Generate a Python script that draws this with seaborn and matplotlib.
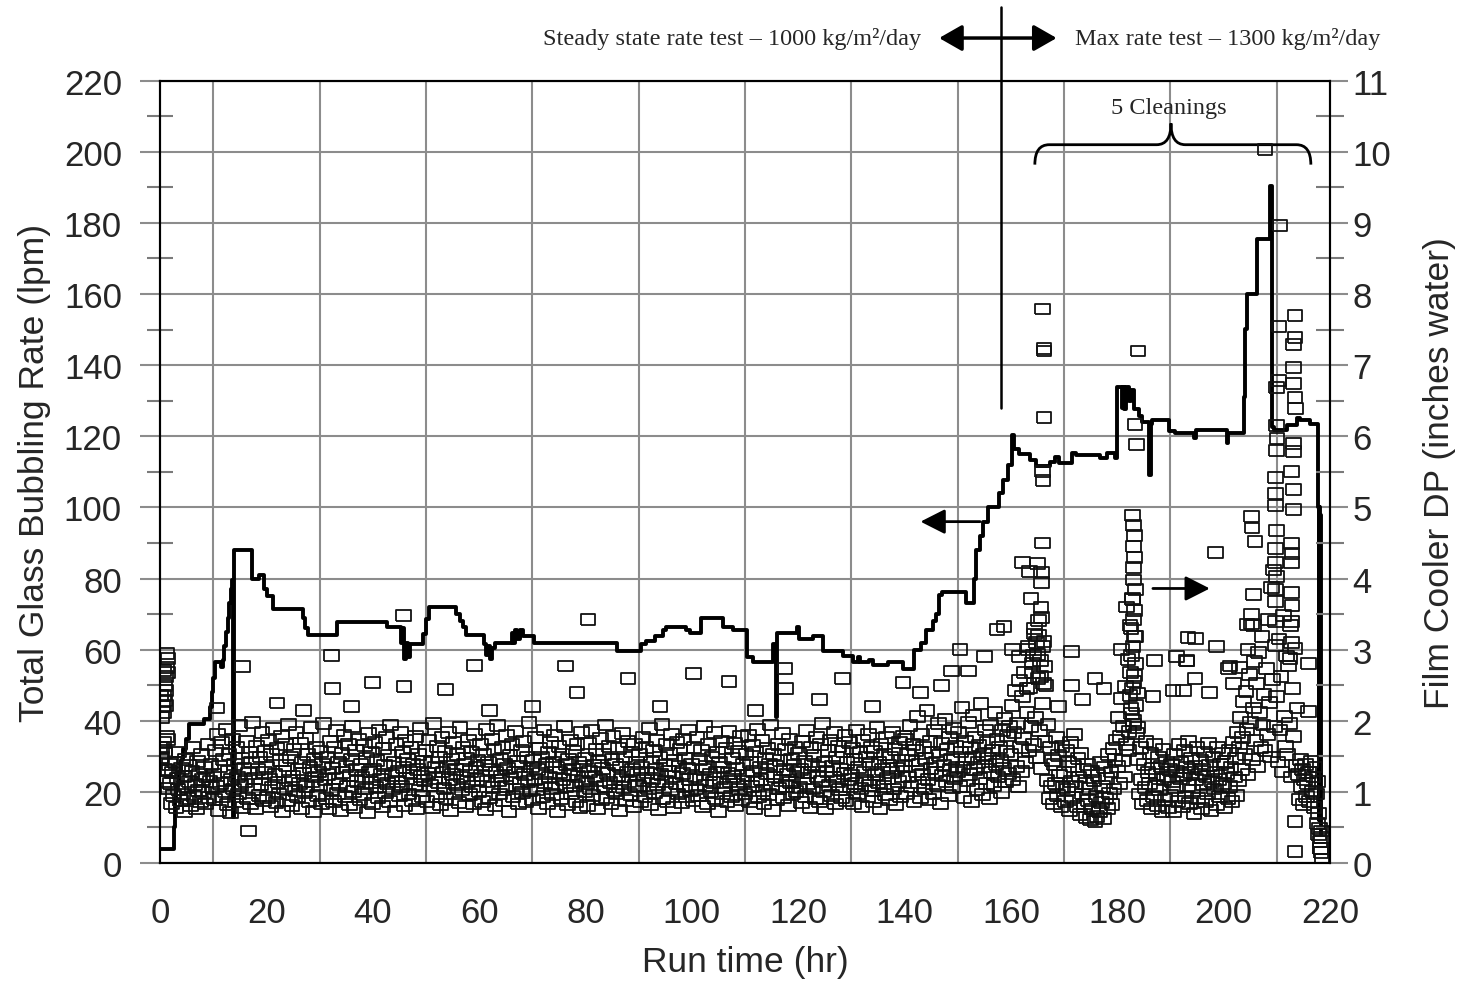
import numpy as np
import pandas as pd
import matplotlib
matplotlib.use("Agg")
import matplotlib.pyplot as plt
from matplotlib.path import Path
from matplotlib.patches import PathPatch
from matplotlib.ticker import MultipleLocator
import seaborn as sns

# Total glass bubbling rate (lpm), step trace: (run hr, lpm)
bubbling_steps = [
    (0.0, 4), (2.6, 10), (2.8, 18), (3.1, 22), (3.5, 26), (3.9, 29), (4.4, 32),
    (4.9, 35), (5.4, 39), (8.2, 40.5), (9.4, 44), (9.7, 48), (10.0, 52),
    (10.3, 56.5), (11.4, 55), (11.8, 57), (12.1, 61), (12.4, 65), (12.7, 69),
    (13.0, 73), (13.3, 77), (13.5, 79.5), (13.75, 13), (13.85, 88), (17.3, 80),
    (18.6, 81), (19.6, 77), (20.2, 75), (21.3, 71.5), (26.8, 69), (27.3, 66),
    (27.8, 64), (33.2, 67.8), (42.6, 66.5), (45.4, 62), (45.7, 66), (45.9, 57.5),
    (46.3, 62), (46.6, 58), (47.0, 61.5), (49.5, 64.5), (50.0, 68.5), (50.5, 72),
    (55.6, 70), (56.4, 68), (57.0, 66.5), (57.6, 64), (60.9, 61.5), (61.3, 58.5),
    (61.7, 61), (62.1, 57.5), (62.5, 60.5), (63.0, 62), (66.1, 64.6), (66.4, 62),
    (66.8, 65.5), (67.2, 63), (67.7, 65.5), (68.2, 63.7), (70.3, 62), (85.9, 59.6),
    (90.4, 61.5), (91.3, 62.5), (93.0, 63.7), (94.6, 65.5), (95.2, 66.5),
    (98.9, 65.5), (99.6, 64.7), (101.8, 68.8), (105.8, 66.5), (107.8, 65.6),
    (110.3, 57.8), (111.5, 56.6), (115.2, 61.5), (115.8, 41), (116.1, 64.6),
    (119.7, 66.5), (120.2, 62.9), (122.8, 63.7), (124.7, 59.6), (128.5, 58.3),
    (130.4, 56.4), (131.2, 58), (131.6, 56.5), (133.4, 57), (134.0, 55.8),
    (136.8, 56.6), (139.8, 54.5), (141.8, 60), (143.1, 62), (144.0, 65.5),
    (145.3, 68), (145.9, 70), (146.5, 75.5), (147.0, 76.3), (151.6, 73),
    (153.1, 80), (153.5, 88), (154.1, 92), (154.8, 96), (155.6, 100.2),
    (157.8, 104), (158.5, 107.6), (159.5, 112), (160.2, 120.5), (160.6, 116.4),
    (161.5, 115), (163.5, 113.3), (164.7, 111.7), (167.3, 112.7), (168.2, 114.3),
    (169.1, 112.4), (171.4, 115.3), (172.3, 114.8), (176.7, 114), (178.0, 115.3),
    (179.5, 114), (180.0, 134), (180.8, 128), (181.0, 134), (181.3, 127.7),
    (181.6, 134), (182.2, 130), (182.6, 133), (183.1, 127.7), (184.1, 125.8),
    (184.7, 123.9), (186.0, 109), (186.3, 123.5), (186.6, 124.5), (189.7, 121.6),
    (190.9, 120.9), (194.4, 119.5), (194.8, 121.9), (200.6, 118), (200.9, 121),
    (203.75, 131), (204.1, 150.3), (204.4, 160), (206.25, 175.5), (208.75, 190.3),
    (209.1, 122.6), (209.5, 121.9), (211.9, 123.2), (213.75, 125.2), (214.4, 124.5),
    (216.25, 123.5), (217.8, 100), (217.9, 12), (218.0, 100), (218.1, 15),
    (218.2, 98), (218.3, 8), (218.4, 8),
]

# Film cooler DP (inches water), logged every 0.2 hr, one list per 10 hr block
dp_interval_hr = 0.2
dp_000 = [1.62, 2.35, 1.48, 2.71, 1.31, 2.22, 1.15, 1.74, 1.05, 1.38,
          1.12, 0.84, 1.27, 0.95, 1.41, 0.78, 1.19, 1.03, 1.56, 0.88,
          1.33, 0.97, 1.22, 0.72, 1.46, 1.08, 0.91, 1.37, 1.15, 0.81,
          1.29, 1.62, 0.94, 1.11, 0.76, 1.43, 1.02, 1.25, 0.87, 1.52,
          1.18, 0.99, 1.34, 0.83, 1.21, 1.67, 0.92, 1.14, 1.39, 1.06]
dp_010 = [1.24, 0.89, 1.58, 1.07, 1.81, 0.74, 1.36, 1.12, 1.69, 0.93,
          1.45, 1.01, 1.88, 0.82, 1.29, 1.53, 0.71, 1.17, 1.74, 1.04,
          1.38, 0.86, 1.62, 1.21, 0.97, 1.93, 1.09, 1.47, 0.78, 1.33,
          1.15, 1.71, 0.91, 1.26, 1.55, 0.84, 1.42, 1.98, 1.03, 1.19,
          0.76, 1.64, 1.31, 0.95, 1.49, 1.11, 1.83, 0.88, 1.27, 1.57]
dp_020 = [1.35, 0.92, 1.73, 1.18, 0.79, 1.52, 1.06, 1.89, 1.24, 0.85,
          1.61, 1.13, 0.97, 1.44, 1.78, 0.73, 1.29, 1.05, 1.66, 1.37,
          0.88, 1.95, 1.16, 1.48, 0.81, 1.22, 1.59, 1.02, 1.84, 0.94,
          1.31, 1.12, 1.68, 0.77, 1.41, 1.26, 0.99, 1.75, 1.08, 1.53,
          0.86, 1.34, 1.91, 1.14, 0.72, 1.46, 1.21, 1.63, 0.95, 1.28]
dp_030 = [1.09, 1.57, 0.83, 1.38, 1.96, 1.17, 0.91, 1.49, 1.25, 0.76,
          1.71, 1.03, 1.33, 0.87, 1.62, 1.19, 1.86, 0.98, 1.42, 1.11,
          0.74, 1.54, 1.27, 1.79, 0.93, 1.36, 1.07, 1.67, 0.82, 1.23,
          1.45, 1.92, 1.01, 0.78, 1.58, 1.31, 1.14, 1.74, 0.89, 1.39,
          1.21, 0.96, 1.65, 1.04, 1.47, 0.71, 1.82, 1.28, 1.13, 1.56]
dp_040 = [0.84, 1.32, 1.69, 1.06, 1.44, 0.92, 1.87, 1.18, 1.25, 0.79,
          1.61, 1.37, 0.99, 1.76, 1.12, 1.51, 0.86, 1.94, 1.23, 1.04,
          1.41, 0.73, 1.66, 1.15, 1.29, 0.95, 1.83, 1.08, 1.55, 1.34,
          0.81, 1.72, 1.19, 1.46, 0.97, 1.27, 1.63, 0.88, 1.39, 1.11,
          1.78, 0.76, 1.31, 1.52, 1.02, 1.89, 1.22, 0.93, 1.43, 1.16]
dp_050 = [1.58, 0.87, 1.26, 1.73, 1.09, 1.41, 0.78, 1.96, 1.19, 1.35,
          0.94, 1.64, 1.13, 1.48, 0.82, 1.77, 1.28, 1.05, 1.57, 0.91,
          1.36, 1.84, 1.17, 0.74, 1.45, 1.24, 1.69, 0.98, 1.32, 1.11,
          1.53, 0.85, 1.91, 1.21, 1.03, 1.62, 1.38, 0.79, 1.47, 1.14,
          1.72, 0.96, 1.29, 1.56, 1.07, 0.83, 1.81, 1.34, 1.18, 1.44]
dp_060 = [1.01, 1.67, 1.23, 0.86, 1.52, 1.37, 0.75, 1.88, 1.14, 1.42,
          0.92, 1.31, 1.74, 1.06, 1.59, 0.81, 1.27, 1.93, 1.16, 0.97,
          1.46, 1.22, 1.63, 0.88, 1.39, 1.08, 1.79, 1.33, 0.72, 1.51,
          1.19, 1.66, 0.94, 1.28, 1.85, 1.04, 1.43, 0.83, 1.36, 1.12,
          1.58, 0.99, 1.71, 1.25, 0.87, 1.48, 1.15, 1.97, 1.02, 1.35]
dp_070 = [0.89, 1.44, 1.18, 1.76, 1.03, 1.32, 0.77, 1.61, 1.26, 1.49,
          0.93, 1.87, 1.13, 1.38, 0.84, 1.55, 1.21, 1.69, 1.05, 0.96,
          1.42, 1.79, 1.11, 1.34, 0.73, 1.64, 1.27, 0.91, 1.53, 1.17,
          1.92, 1.07, 1.39, 0.82, 1.46, 1.24, 1.73, 0.98, 1.31, 1.57,
          1.09, 0.86, 1.67, 1.22, 1.41, 0.78, 1.83, 1.14, 1.36, 1.01]
dp_080 = [1.47, 1.12, 0.81, 1.68, 1.29, 1.04, 1.86, 0.95, 1.37, 1.21,
          1.59, 0.76, 1.43, 1.16, 1.75, 0.89, 1.33, 1.52, 1.07, 1.94,
          0.92, 1.26, 1.64, 1.13, 0.84, 1.45, 1.78, 1.02, 1.38, 0.97,
          1.23, 1.61, 0.74, 1.35, 1.18, 1.82, 1.06, 1.49, 0.88, 1.28,
          1.71, 1.15, 0.96, 1.56, 1.31, 0.79, 1.66, 1.09, 1.42, 1.24]
dp_090 = [1.08, 1.53, 0.87, 1.34, 1.77, 1.16, 0.94, 1.62, 1.27, 1.05,
          1.89, 0.82, 1.41, 1.19, 1.58, 0.99, 1.32, 1.72, 1.11, 0.75,
          1.48, 1.25, 1.95, 0.91, 1.37, 1.14, 1.66, 0.86, 1.29, 1.54,
          1.03, 1.81, 1.22, 0.78, 1.44, 1.12, 1.69, 0.97, 1.36, 1.59,
          0.85, 1.26, 1.74, 1.07, 1.47, 0.93, 1.33, 1.87, 1.18, 1.02]
dp_100 = [1.39, 0.88, 1.63, 1.21, 1.04, 1.76, 0.95, 1.45, 1.17, 1.58,
          0.79, 1.31, 1.92, 1.09, 1.36, 0.84, 1.67, 1.24, 1.01, 1.49,
          1.13, 1.83, 0.91, 1.28, 1.55, 0.73, 1.42, 1.19, 1.71, 0.98,
          1.35, 1.06, 1.61, 0.87, 1.26, 1.85, 1.14, 0.94, 1.47, 1.22,
          1.68, 0.81, 1.33, 1.11, 1.57, 1.03, 1.78, 0.89, 1.38, 1.15]
dp_110 = [0.97, 1.52, 1.23, 1.79, 0.86, 1.41, 1.08, 1.65, 1.29, 0.77,
          1.56, 1.14, 1.88, 0.93, 1.34, 1.18, 1.72, 1.02, 0.83, 1.47,
          1.26, 1.61, 0.96, 1.39, 1.94, 1.11, 0.74, 1.53, 1.21, 1.36,
          0.89, 1.67, 1.05, 1.44, 1.16, 1.82, 0.92, 1.31, 1.59, 1.07,
          1.25, 0.81, 1.74, 1.13, 1.46, 0.98, 1.37, 1.63, 1.01, 1.28]
dp_120 = [1.54, 1.06, 1.32, 0.85, 1.71, 1.19, 1.43, 0.94, 1.86, 1.12,
          1.27, 0.78, 1.62, 1.38, 1.04, 1.51, 0.91, 1.77, 1.22, 1.35,
          0.87, 1.66, 1.15, 1.96, 1.01, 1.42, 0.76, 1.29, 1.58, 1.09,
          1.73, 0.95, 1.36, 1.21, 1.84, 0.83, 1.48, 1.14, 1.64, 1.03,
          1.31, 0.92, 1.57, 1.26, 1.79, 0.88, 1.41, 1.17, 1.69, 1.07]
dp_130 = [1.23, 1.61, 0.84, 1.45, 1.12, 1.87, 0.97, 1.34, 1.55, 1.05,
          0.79, 1.72, 1.28, 1.16, 1.49, 0.93, 1.81, 1.09, 1.38, 1.63,
          1.02, 0.86, 1.57, 1.24, 1.91, 1.13, 1.42, 0.77, 1.66, 1.31,
          1.08, 1.53, 0.96, 1.76, 1.19, 1.37, 0.89, 1.48, 1.27, 1.84,
          1.04, 1.59, 0.82, 1.33, 1.15, 1.69, 0.94, 1.44, 1.22, 1.78]
dp_140 = [1.36, 1.74, 0.98, 1.52, 1.21, 1.93, 1.07, 1.44, 1.67, 0.86,
          1.58, 1.29, 2.06, 1.13, 1.39, 0.92, 1.81, 1.25, 1.62, 1.04,
          1.47, 2.14, 1.18, 0.89, 1.71, 1.33, 1.55, 0.97, 1.86, 1.27,
          1.42, 1.09, 1.96, 1.51, 0.84, 1.68, 1.23, 1.37, 2.02, 1.14,
          1.59, 0.95, 1.77, 1.31, 1.46, 1.06, 1.89, 1.19, 1.64, 1.35]
dp_150 = [1.28, 1.83, 1.07, 1.56, 2.19, 1.34, 0.92, 1.71, 1.45, 1.16,
          1.98, 1.24, 1.62, 0.87, 1.49, 2.08, 1.31, 1.77, 1.03, 1.41,
          1.65, 1.19, 2.24, 0.96, 1.53, 1.36, 1.87, 1.12, 1.69, 1.47,
          0.91, 1.94, 1.27, 1.58, 1.09, 2.11, 1.38, 1.74, 1.21, 1.63,
          1.44, 0.99, 1.86, 1.33, 2.03, 1.15, 1.57, 1.79, 1.26, 1.92]
dp_160 = [1.52, 2.21, 1.17, 1.84, 2.43, 1.36, 1.96, 1.08, 2.57, 1.63,
          1.29, 2.34, 1.75, 2.68, 1.41, 2.12, 3.05, 1.58, 2.46, 1.92,
          2.81, 1.67, 3.22, 2.05, 1.48, 2.93, 3.41, 1.86, 2.62, 1.33,
          2.24, 3.12, 1.71, 2.49, 1.16, 1.95, 0.91, 1.62, 1.08, 1.44,
          0.83, 1.38, 1.12, 1.76, 0.95, 1.51, 1.23, 0.79, 1.64, 1.06]
dp_170 = [1.27, 0.86, 1.58, 1.03, 1.42, 0.74, 1.69, 1.15, 0.92, 1.36,
          1.81, 1.08, 0.79, 1.47, 1.21, 0.68, 1.54, 0.97, 1.32, 0.83,
          1.12, 0.64, 1.38, 0.88, 1.05, 0.61, 1.29, 0.76, 1.16, 0.58,
          0.94, 0.66, 1.23, 0.72, 1.41, 0.85, 1.07, 0.63, 1.34, 0.91,
          1.19, 0.77, 1.52, 0.98, 1.28, 0.82, 1.61, 1.04, 1.45, 1.73]
dp_180 = [1.36, 2.05, 1.12, 1.78, 2.31, 1.44, 1.92, 1.21, 2.48, 1.67,
          2.86, 1.58, 3.34, 2.17, 3.72, 1.95, 2.64, 3.18, 1.82, 2.39,
          1.46, 0.97, 1.63, 1.18, 0.83, 1.39, 1.06, 1.71, 0.88, 1.27,
          1.12, 1.54, 0.76, 1.33, 0.94, 1.67, 1.08, 1.25, 0.81, 1.48,
          1.03, 1.36, 0.72, 1.59, 1.17, 0.89, 1.42, 1.21, 0.78, 1.31]
dp_190 = [0.95, 1.38, 1.14, 0.73, 1.52, 1.06, 1.29, 0.87, 1.66, 1.19,
          1.41, 0.79, 1.23, 1.58, 0.92, 1.34, 1.09, 1.71, 0.84, 1.27,
          1.47, 1.02, 0.69, 1.36, 1.18, 1.62, 0.91, 1.25, 1.44, 0.77,
          1.31, 1.11, 1.56, 0.86, 1.22, 0.97, 1.68, 1.37, 0.74, 1.15,
          1.49, 1.04, 1.28, 0.82, 1.63, 1.17, 0.93, 1.39, 1.08, 1.54]
dp_200 = [1.12, 0.78, 1.43, 1.26, 0.91, 1.58, 1.07, 1.34, 0.86, 1.69,
          1.21, 1.47, 0.95, 1.83, 1.16, 1.62, 2.04, 1.31, 1.76, 2.27,
          1.53, 2.41, 1.88, 1.24, 2.65, 1.97, 3.36, 1.45, 2.18, 2.83,
          1.72, 2.52, 1.36, 2.96, 2.11, 1.63, 3.18, 1.94, 2.37, 1.58,
          2.73, 1.81, 3.42, 2.26, 1.49, 3.87, 2.58, 4.12, 1.92, 3.06]
dp_210 = [2.34, 1.42, 3.15, 1.87, 2.62, 1.28, 3.48, 2.06, 1.64, 2.91,
          1.53, 2.77, 1.96, 3.34, 1.21, 2.45, 1.78, 3.02, 1.37, 2.18,
          1.24, 0.89, 1.46, 1.07, 1.31, 0.82, 1.18, 1.39, 0.94, 1.12,
          1.27, 0.86, 1.43, 1.01, 1.21, 0.78, 1.35, 0.97, 1.14, 0.69,
          0.48, 0.21, 0.36]
dp_blocks = {0: dp_000, 10: dp_010, 20: dp_020, 30: dp_030, 40: dp_040,
             50: dp_050, 60: dp_060, 70: dp_070, 80: dp_080, 90: dp_090,
             100: dp_100, 110: dp_110, 120: dp_120, 130: dp_130, 140: dp_140,
             150: dp_150, 160: dp_160, 170: dp_170, 180: dp_180, 190: dp_190,
             200: dp_200, 210: dp_210}

# extra DP readings (hr, inches water): start-up column, outliers and cleaning spikes
early_pts = [(0.3, 2.05), (0.5, 2.2), (0.7, 2.35), (0.9, 2.5), (1.1, 2.62),
             (1.3, 2.75), (1.5, 2.88), (1.2, 2.95), (0.8, 2.28), (0.6, 2.12),
             (1.0, 2.42), (1.4, 2.68), (0.4, 1.62), (0.7, 1.7), (0.9, 1.55),
             (0.2, 1.45), (1.2, 1.78), (1.6, 1.3)]
outlier_pts = [(10.7, 2.18), (15.5, 2.76), (16.6, 0.45), (22.0, 2.25), (27.0, 2.15),
               (32.3, 2.92), (32.5, 2.45), (36.0, 2.2), (39.9, 2.54), (45.8, 3.48),
               (45.9, 2.48), (53.7, 2.44), (59.2, 2.78), (62.0, 2.15), (70.0, 2.2),
               (76.2, 2.77), (78.4, 2.4), (80.5, 3.43), (88.0, 2.6), (94.0, 2.2),
               (100.3, 2.67), (107.0, 2.55), (112.0, 2.15), (117.5, 2.74),
               (117.6, 2.45), (124.0, 2.3), (128.3, 2.6), (134.0, 2.2), (139.7, 2.54),
               (143.0, 2.4), (147.0, 2.5), (148.8, 2.7), (150.4, 3.0), (152.0, 2.7),
               (155.0, 2.9), (157.4, 3.28), (158.7, 3.33)]
spike1_pts = [(160.3, 3.0), (161.5, 2.9), (162.2, 4.22), (163.0, 2.45), (163.2, 3.0),
              (163.5, 4.1), (163.8, 3.72), (164.0, 2.68), (164.2, 2.92), (164.5, 3.3),
              (164.8, 3.1), (165.0, 4.21), (165.1, 2.6), (165.2, 3.2), (165.5, 2.85),
              (165.7, 4.08), (165.75, 3.95), (165.65, 3.59), (165.7, 3.45), (165.9, 3.05),
              (166.0, 7.79), (166.2, 7.23), (166.25, 7.2), (166.2, 6.26), (166.0, 5.5),
              (166.05, 5.38), (166.0, 4.5), (166.1, 2.52), (166.3, 2.76), (169.0, 2.2),
              (171.4, 2.97), (171.45, 2.5), (173.5, 2.3), (175.8, 2.6), (177.5, 2.45)]
spike2_pts = [(180.8, 3.0), (181.8, 3.6), (182.2, 1.85), (182.4, 2.35), (182.5, 2.68),
              (182.6, 3.3), (182.65, 2.1), (182.7, 2.92), (182.8, 3.7), (182.85, 2.45),
              (182.9, 4.88), (182.95, 3.05), (183.0, 4.45), (183.05, 3.98), (183.0, 3.42),
              (183.0, 2.0), (183.1, 4.75), (183.1, 4.15), (183.15, 2.55), (183.2, 4.6),
              (183.2, 3.55), (183.3, 4.3), (183.3, 3.18), (183.35, 6.17), (183.4, 3.85),
              (183.45, 2.8), (183.5, 2.22), (183.6, 5.88), (183.8, 1.9), (183.9, 7.2)]
between_pts = [(186.7, 2.34), (187.0, 2.85), (190.5, 2.42), (191.1, 2.9), (192.4, 2.42),
               (193.1, 2.84), (193.3, 3.17), (193.0, 2.85), (194.6, 2.6), (194.7, 3.16),
               (197.4, 2.4), (198.5, 4.37), (198.7, 3.05), (200.9, 2.74), (201.2, 2.77),
               (201.8, 2.53), (203.0, 2.75)]
spike3_pts = [(204.4, 3.35), (204.6, 3.0), (205.2, 3.5), (205.3, 4.87), (205.35, 4.71),
              (205.6, 3.78), (205.65, 3.34), (205.9, 4.52), (207.8, 10.03), (209.7, 5.42),
              (209.7, 5.2), (209.75, 5.03), (209.7, 4.42), (209.7, 4.23), (209.75, 3.84),
              (209.7, 3.68), (209.7, 3.39), (210.0, 6.68), (210.0, 6.15), (210.05, 5.97),
              (210.0, 5.8), (210.0, 4.68), (210.0, 4.03), (210.3, 6.78), (210.4, 7.55),
              (210.6, 8.97), (212.5, 2.87), (212.8, 5.5), (212.8, 4.49), (212.85, 4.35),
              (212.8, 4.23), (212.8, 3.8), (212.85, 3.62), (212.8, 3.39), (212.8, 3.1),
              (213.1, 7.29), (213.1, 6.97), (213.15, 6.74), (213.1, 5.9), (213.1, 5.78),
              (213.15, 5.25), (213.1, 4.97), (213.4, 7.7), (213.4, 7.39), (213.4, 6.55),
              (213.45, 6.39), (213.4, 0.58), (213.4, 0.16), (215.9, 2.8), (215.9, 2.13)]
tail_pts = [(217.6, 0.55), (217.9, 0.4), (218.1, 0.3), (218.2, 0.2), (218.3, 0.15),
            (218.4, 0.45), (218.5, 0.05)]

# ---- assemble tables ----
rate_df = pd.DataFrame(bubbling_steps, columns=["hr", "lpm"])

frames = []
for start, vals in dp_blocks.items():
    frames.append(pd.DataFrame({"hr": start + dp_interval_hr * np.arange(len(vals)),
                                "dp": vals}))
for pts in [early_pts, outlier_pts, spike1_pts, spike2_pts, between_pts,
            spike3_pts, tail_pts]:
    frames.append(pd.DataFrame(pts, columns=["hr", "dp"]))
dp_df = pd.concat(frames, ignore_index=True)

# ---- style ----
sns.set_style("white")
plt.rcParams["font.family"] = ["Liberation Sans", "DejaVu Sans"]
serif = ["Liberation Serif", "DejaVu Serif"]
grid_c = "#8c8c8c"

fig = plt.figure(figsize=(14.65, 9.87), dpi=100)
ax = fig.add_axes([160 / 1465, 1 - 864 / 987, 1170 / 1465, 782.3 / 987])
ax2 = ax.twinx()

sns.lineplot(data=rate_df, x="hr", y="lpm", ax=ax, drawstyle="steps-post",
             estimator=None, sort=False, color="black", linewidth=2.8)

rect = [(-1.35, -1), (1.35, -1), (1.35, 1), (-1.35, 1), (-1.35, -1)]
sns.scatterplot(data=dp_df, x="hr", y="dp", ax=ax2, marker=rect, s=112,
                color="#111111", facecolor="none", edgecolor="#111111",
                linewidth=1.3, legend=False)

ax.set_xlim(0, 220)
ax.set_ylim(0, 220)
ax2.set_ylim(0, 11)

ax.xaxis.set_major_locator(MultipleLocator(20))
ax.xaxis.set_minor_locator(MultipleLocator(10))
ax.yaxis.set_major_locator(MultipleLocator(20))
ax.yaxis.set_minor_locator(MultipleLocator(10))
ax2.yaxis.set_major_locator(MultipleLocator(1))
ax2.yaxis.set_minor_locator(MultipleLocator(0.5))

ax.set_axisbelow(True)
ax.grid(which="major", axis="y", color=grid_c, lw=1.5)
ax.grid(which="minor", axis="x", color=grid_c, lw=1.5)

ax.tick_params(axis="x", which="major", direction="inout", length=19.4, width=1.5,
               color=grid_c, pad=14, labelsize=25)
ax.tick_params(axis="x", which="minor", direction="out", length=9.4, width=1.5,
               color=grid_c)
ax.tick_params(axis="y", which="major", direction="out", length=14.4, width=1.5,
               color=grid_c, pad=13, labelsize=25)
ax.tick_params(axis="y", which="minor", direction="inout", length=18.7, width=1.5,
               color="#7a7a7a")
ax2.tick_params(axis="y", which="major", direction="out", length=13, width=1.5,
                color=grid_c, pad=3, labelsize=25)
ax2.tick_params(axis="y", which="minor", direction="inout", length=20, width=1.5,
                color="#7a7a7a")

for a in (ax, ax2):
    for sp in a.spines.values():
        sp.set_color("black")
        sp.set_linewidth(1.5)

ax.set_xlabel("Run time (hr)", fontsize=25.5)
ax.xaxis.set_label_coords(0.5, -0.126)
ax.xaxis.label.set_va("center")
ax.set_ylabel("Total Glass Bubbling Rate (lpm)", fontsize=25.5)
ax.yaxis.set_label_coords(-0.107, 0.5)
ax.yaxis.label.set_va("center")
ax2.set_ylabel("Film Cooler DP (inches water)", fontsize=25.5)
ax2.yaxis.set_label_coords(1.094, 0.5)
ax2.yaxis.label.set_va("center")

# ---- annotations ----
ax.plot([158.2, 158.2], [128, 240.6], color="black", lw=1.8, clip_on=False)
ax.annotate("", xy=(146.5, 232), xytext=(168.6, 232), annotation_clip=False,
            arrowprops=dict(arrowstyle="<|-|>,head_length=0.7,head_width=0.4",
                            color="black", lw=2.5, mutation_scale=20,
                            shrinkA=0, shrinkB=0))
ax.text(143.1, 232, "Steady state rate test \u2013 1000 kg/m\u00b2/day", ha="right",
        va="center", family=serif, fontsize=17.5)
ax.text(172.1, 232, "Max rate test \u2013 1300 kg/m\u00b2/day", ha="left",
        va="center", family=serif, fontsize=17.5)
ax.text(189.6, 212.6, "5 Cleanings", ha="center", va="center", family=serif,
        fontsize=17.5)

brace = Path([(164.5, 196.4), (164.5, 202), (167.2, 202), (187.4, 202),
              (190.1, 202), (190.1, 208), (190.1, 202), (192.8, 202),
              (213.7, 202), (216.4, 202), (216.4, 196.4)],
             [Path.MOVETO, Path.CURVE3, Path.CURVE3, Path.LINETO,
              Path.CURVE3, Path.CURVE3, Path.CURVE3, Path.CURVE3,
              Path.LINETO, Path.CURVE3, Path.CURVE3])
ax.add_patch(PathPatch(brace, fill=False, lw=2, color="black", clip_on=False))

arrow_kw = dict(arrowstyle="-|>,head_length=0.75,head_width=0.38", color="black",
                lw=2, mutation_scale=20, shrinkA=0, shrinkB=0)
ax.annotate("", xy=(143.0, 96), xytext=(154.2, 96), arrowprops=arrow_kw)
ax.annotate("", xy=(197.4, 77.2), xytext=(186.7, 77.2), arrowprops=arrow_kw)

fig.savefig("out.png", dpi=100)
